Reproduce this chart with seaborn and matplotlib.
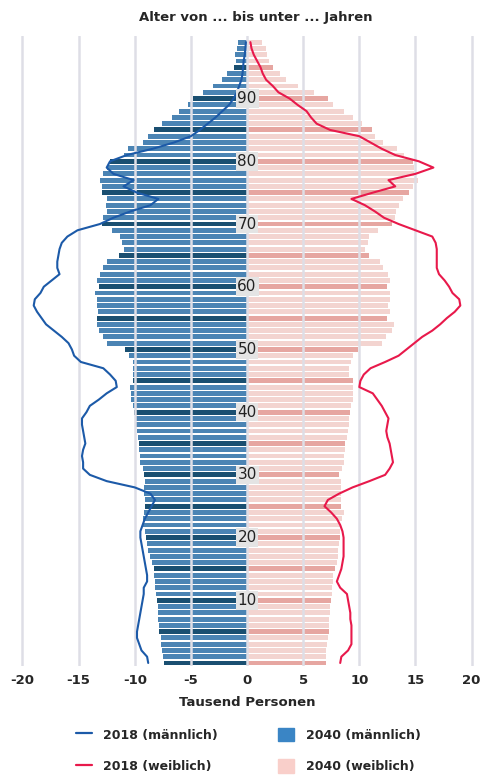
import numpy as np
import pandas as pd
import matplotlib
matplotlib.use('Agg')
import matplotlib.pyplot as plt
from matplotlib.lines import Line2D
from matplotlib.patches import Patch
import seaborn as sns

# Alter 0 .. 99, Werte in Tausend Personen
ages = list(range(100))

male_2040 = [7.4, 7.5, 7.6, 7.7, 7.7, 7.8, 7.8, 7.9, 7.9, 7.9,
             8.0, 8.1, 8.2, 8.2, 8.3, 8.3, 8.5, 8.6, 8.8, 8.9,
             9.0, 9.1, 9.3, 9.3, 9.2, 9.1, 9.1, 9.2, 9.2, 9.1,
             9.2, 9.3, 9.5, 9.5, 9.6, 9.6, 9.7, 9.8, 9.9, 9.9,
             10.1, 10.2, 10.3, 10.3, 10.4, 10.2, 10.2, 10.2, 10.2, 10.5,
             10.9, 12.5, 12.8, 13.2, 13.4, 13.4, 13.3, 13.4, 13.4, 13.5,
             13.2, 13.4, 13.1, 12.8, 12.5, 11.4, 11.0, 11.1, 11.3, 12.0,
             12.9, 12.8, 12.5, 12.6, 12.5, 12.9, 12.9, 13.1, 12.8, 12.5,
             12.2, 11.0, 10.6, 9.3, 8.8, 8.3, 7.6, 6.7, 6.1, 5.3,
             4.8, 3.9, 3.0, 2.2, 1.8, 1.2, 1.0, 1.1, 0.9, 0.8]

female_2040 = [7.0, 7.0, 7.0, 7.1, 7.2, 7.3, 7.3, 7.3, 7.4, 7.4,
               7.5, 7.6, 7.6, 7.7, 7.7, 7.8, 8.0, 8.1, 8.1, 8.2,
               8.3, 8.3, 8.3, 8.5, 8.6, 8.4, 8.4, 8.4, 8.4, 8.4,
               8.2, 8.5, 8.6, 8.6, 8.7, 8.7, 8.9, 9.0, 9.1, 9.1,
               9.2, 9.3, 9.4, 9.4, 9.4, 9.4, 9.1, 9.1, 9.3, 9.4,
               9.9, 12.0, 12.4, 12.9, 13.1, 12.5, 12.7, 12.6, 12.7, 12.7,
               12.5, 12.7, 12.6, 12.1, 11.8, 10.9, 10.5, 10.8, 10.9, 11.7,
               12.9, 13.2, 13.3, 13.5, 13.9, 14.4, 14.8, 15.2, 14.9, 14.9,
               14.8, 14.0, 13.4, 12.1, 11.4, 11.1, 10.2, 9.4, 8.6, 7.7,
               7.2, 6.0, 4.5, 3.5, 2.9, 2.3, 2.0, 1.8, 1.7, 1.3]

male_2018 = [8.8, 8.9, 9.4, 9.6, 9.8, 9.8, 9.7, 9.6, 9.5, 9.4,
             9.3, 9.2, 9.2, 8.9, 8.9, 9.0, 9.1, 9.2, 9.3, 9.4,
             9.5, 9.5, 9.3, 9.1, 8.8, 8.5, 8.2, 8.6, 10.0, 12.5,
             14.0, 14.6, 14.6, 14.7, 14.6, 14.4, 14.5, 14.6, 14.7, 14.7,
             14.3, 14.0, 13.2, 12.5, 11.6, 11.7, 12.2, 12.8, 14.8, 15.4,
             15.6, 15.9, 16.5, 17.2, 17.9, 18.3, 18.7, 19.0, 18.9, 18.4,
             18.1, 17.4, 16.7, 16.9, 16.9, 16.8, 16.7, 16.5, 16.0, 15.1,
             13.1, 11.9, 10.4, 8.6, 7.9, 9.8, 11.0, 10.1, 11.9, 12.5,
             12.2, 10.7, 8.4, 6.5, 5.0, 4.2, 3.5, 2.8, 2.2, 1.6,
             1.2, 0.9, 0.7, 0.5, 0.4, 0.35, 0.3, 0.2, 0.15, 0.1]

female_2018 = [8.3, 8.4, 9.0, 9.3, 9.3, 9.3, 9.3, 9.2, 9.2, 9.1,
               9.0, 8.9, 8.3, 8.0, 8.2, 8.4, 8.5, 8.6, 8.6, 8.6,
               8.6, 8.5, 8.3, 8.0, 7.5, 6.9, 7.2, 8.2, 9.4, 10.9,
               12.3, 12.7, 13.0, 12.9, 12.8, 12.7, 12.5, 12.4, 12.5, 12.6,
               12.3, 12.0, 11.6, 11.2, 10.0, 10.1, 10.4, 11.0, 12.3, 13.5,
               14.2, 14.9, 15.6, 16.5, 17.2, 17.8, 18.5, 19.0, 18.9, 18.3,
               18.0, 17.6, 17.1, 16.9, 16.9, 16.9, 16.9, 16.8, 16.5, 15.0,
               13.5, 12.2, 11.4, 10.5, 9.3, 11.2, 13.2, 12.6, 15.0, 16.6,
               15.3, 13.2, 12.0, 11.0, 10.0, 7.4, 6.2, 5.7, 5.3, 4.5,
               3.8, 2.8, 2.3, 1.7, 1.4, 1.2, 0.9, 0.6, 0.4, 0.3]

age_labels = [10, 20, 30, 40, 50, 60, 70, 80, 90]
x_ticks = [-20, -15, -10, -5, 0, 5, 10, 15, 20]

df = pd.DataFrame({
    'age': ages,
    'male_2040': [-v for v in male_2040],
    'female_2040': female_2040,
    'male_2018': [-v for v in male_2018],
    'female_2018': female_2018,
})
df['dark'] = ['d' if a % 5 == 0 else 'n' for a in ages]

sns.set_style('white')
plt.rcParams['font.family'] = ['DejaVu Sans']
plt.rcParams['axes.unicode_minus'] = False

fig = plt.figure(figsize=(4.82, 7.80), dpi=100)
ax = fig.add_axes([0.028, 0.146, 0.969, 0.808])

sns.barplot(data=df, x='male_2040', y='age', hue='dark', orient='h',
            native_scale=True, dodge=False, width=0.78, legend=False,
            palette={'n': '#3a85c5', 'd': '#0b5280'}, linewidth=0, ax=ax)
sns.barplot(data=df, x='female_2040', y='age', hue='dark', orient='h',
            native_scale=True, dodge=False, width=0.78, legend=False,
            palette={'n': '#f9cfca', 'd': '#f29c95'}, linewidth=0, ax=ax)

# Gitterlinien ueber den Balken
for t in x_ticks:
    ax.axvline(t, color='#dedee6', lw=1.8, zorder=3)

sns.lineplot(data=df, x='male_2018', y='age', orient='y', sort=False,
             color='#1c5aa8', lw=1.5, ax=ax, zorder=4)
sns.lineplot(data=df, x='female_2018', y='age', orient='y', sort=False,
             color='#e8194b', lw=1.5, ax=ax, zorder=4)

for a in age_labels:
    ax.text(0, a, str(a), ha='center', va='center', fontsize=11,
            color='#222222', zorder=5,
            bbox=dict(boxstyle='square,pad=0.12', fc='#e4e4e4', ec='none'))

ax.set_xlim(-20.8, 20.8)
ax.set_ylim(-0.5, 100)
ax.set_xticks(x_ticks)
ax.set_xticklabels([str(t) for t in x_ticks], fontsize=9.5, fontweight='bold')
ax.set_yticks([])
ax.tick_params(axis='x', length=0, pad=6)
ax.set_xlabel('Tausend Personen', fontsize=9.5, fontweight='bold', labelpad=6)
ax.set_ylabel('')
for s in ax.spines.values():
    s.set_visible(False)

fig.text(0.531, 0.977, 'Alter von ... bis unter ... Jahren', ha='center',
         va='center', fontsize=9.5, fontweight='bold')

handles = [Line2D([], [], color='#1c5aa8', lw=1.6),
           Line2D([], [], color='#e8194b', lw=1.6),
           Patch(color='#3a85c5'),
           Patch(color='#f9cfca')]
labels = ['2018 (männlich)', '2018 (weiblich)', '2040 (männlich)', '2040 (weiblich)']
fig.legend(handles, labels, ncol=2, loc='center', bbox_to_anchor=(0.515, 0.038),
           frameon=False, prop={'size': 9, 'weight': 'bold'},
           handlelength=1.3, handleheight=1.3, labelspacing=1.4,
           columnspacing=4.8, handletextpad=0.9)

fig.savefig('out.png', dpi=100)
